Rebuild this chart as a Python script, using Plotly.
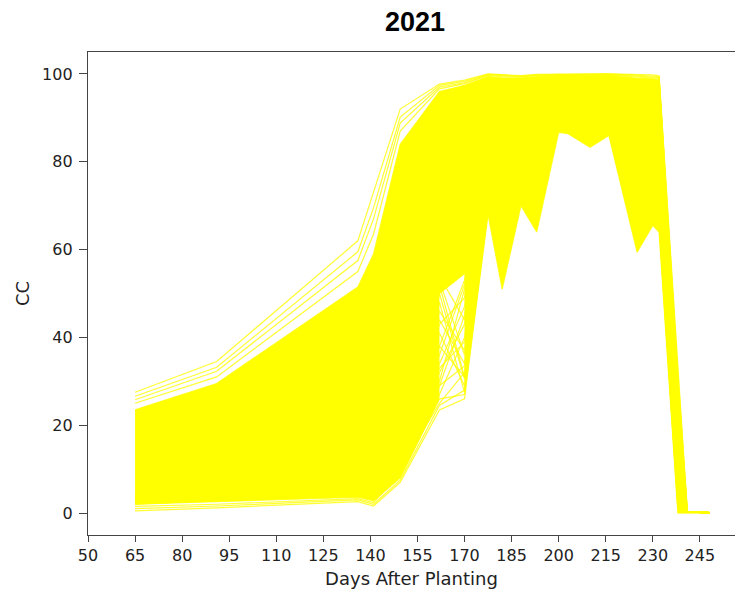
import numpy as np
import plotly.graph_objects as go

# Observation days (days after planting) shared by every plot's record
DAP = [65, 91, 136, 141, 149.5, 162, 170, 177.5, 182, 188, 193, 200, 203,
       210, 216, 225, 230, 232, 238, 241, 248]

# Canopy cover (%) per plot, grouped by early-season vigour
cc_edge_high = [
    [27.5, 34.5, 62.0, 73.0, 92.0, 97.7, 98.6, 100.0, 99.9, 99.6, 99.9, 100.0, 100.0, 100.0, 100.0, 99.9, 99.8, 99.6, 33.0, 0.4, 0.2],
    [26.6, 33.2, 59.5, 69.5, 90.2, 97.4, 98.3, 99.9, 99.8, 99.5, 99.8, 99.9, 99.9, 99.9, 100.0, 99.7, 99.6, 99.4, 32.0, 0.4, 0.2],
    [25.8, 32.3, 57.5, 67.0, 88.8, 97.0, 98.0, 99.8, 99.6, 99.4, 99.7, 99.9, 99.8, 99.8, 99.9, 99.5, 99.4, 99.2, 31.0, 0.3, 0.2],
    [25.0, 31.0, 55.0, 63.5, 87.0, 96.6, 97.8, 99.6, 99.4, 99.3, 99.6, 99.8, 99.8, 99.7, 99.8, 99.3, 99.2, 99.0, 30.0, 0.3, 0.1],
]

cc_vigorous = [
    [23.5, 29.5, 51.5, 59.0, 84.0, 96.0, 97.4, 99.4, 99.1, 99.1, 99.4, 99.7, 99.7, 99.6, 99.7, 99.0, 98.9, 98.6, 28.5, 0.3, 0.1],
    [22.0, 27.5, 47.5, 54.5, 80.5, 95.2, 96.9, 99.1, 98.7, 98.8, 99.1, 99.5, 99.5, 99.4, 99.5, 98.4, 98.6, 98.2, 27.0, 0.3, 0.1],
    [20.0, 25.0, 43.0, 49.0, 76.0, 94.0, 96.2, 98.7, 98.1, 98.4, 98.8, 99.3, 99.3, 99.1, 99.2, 97.5, 98.1, 97.6, 25.0, 0.2, 0.1],
    [18.0, 22.5, 38.5, 43.5, 71.0, 92.5, 95.3, 98.2, 97.3, 97.9, 98.4, 99.1, 99.0, 98.7, 98.9, 96.2, 97.4, 96.9, 23.0, 0.2, 0.1],
]

cc_average = [
    [16.0, 20.0, 34.0, 38.5, 65.0, 90.5, 94.0, 97.5, 96.2, 97.2, 97.8, 98.8, 98.7, 98.2, 98.5, 94.5, 96.4, 95.9, 21.0, 0.2, 0.1],
    [14.0, 17.5, 29.5, 33.5, 59.0, 88.0, 92.5, 96.5, 94.8, 96.3, 97.0, 98.4, 98.3, 97.6, 97.9, 92.5, 95.0, 94.5, 19.0, 0.2, 0.1],
    [12.0, 15.0, 25.5, 29.0, 53.0, 85.0, 90.5, 95.2, 93.0, 95.2, 96.0, 97.9, 97.8, 96.9, 97.3, 90.0, 93.3, 92.8, 17.0, 0.2, 0.1],
    [10.5, 13.0, 22.0, 25.0, 47.0, 81.5, 88.0, 93.8, 91.0, 94.0, 94.8, 97.3, 97.1, 96.0, 96.5, 87.0, 91.2, 90.8, 15.0, 0.2, 0.1],
    [9.0, 11.0, 18.5, 21.0, 41.0, 77.5, 85.0, 92.2, 88.5, 92.5, 93.3, 96.6, 96.4, 95.0, 95.6, 83.5, 88.8, 88.5, 13.0, 0.2, 0.1],
    [7.5, 9.5, 15.5, 17.5, 35.5, 73.0, 81.5, 90.5, 85.5, 90.8, 91.5, 95.8, 95.5, 93.8, 94.6, 79.5, 86.0, 86.0, 11.5, 0.2, 0.1],
]

cc_weak = [
    [6.0, 8.0, 12.5, 14.0, 30.0, 68.0, 77.0, 88.5, 82.0, 88.5, 89.2, 94.8, 94.5, 92.5, 93.5, 75.5, 82.5, 83.0, 10.0, 0.2, 0.1],
    [5.0, 6.5, 10.0, 11.0, 25.0, 63.0, 72.0, 86.0, 78.0, 86.0, 86.5, 93.6, 93.3, 91.0, 92.2, 71.5, 79.0, 79.5, 8.5, 0.2, 0.1],
    [4.0, 5.2, 8.0, 8.5, 20.0, 58.0, 66.0, 83.0, 73.5, 83.0, 83.0, 92.3, 92.0, 89.5, 90.8, 68.0, 75.5, 76.0, 7.0, 0.2, 0.1],
    [3.2, 4.3, 6.5, 6.5, 16.0, 53.0, 60.0, 79.5, 68.0, 79.5, 78.5, 90.8, 90.5, 87.8, 89.3, 64.5, 72.0, 72.5, 5.5, 0.2, 0.1],
    [2.6, 3.5, 5.2, 4.8, 12.5, 50.0, 54.5, 75.5, 62.0, 76.0, 73.0, 89.3, 89.0, 86.2, 88.0, 62.0, 69.0, 69.5, 4.0, 0.2, 0.1],
    [2.3, 3.0, 4.3, 3.6, 10.0, 38.0, 31.0, 71.5, 56.0, 72.5, 68.0, 87.8, 87.6, 84.6, 86.8, 60.5, 66.8, 66.5, 2.0, 0.2, 0.1],
    [2.0, 2.6, 3.6, 2.8, 8.0, 26.0, 27.0, 68.0, 51.0, 70.0, 64.0, 86.7, 86.4, 83.3, 86.0, 59.4, 65.5, 64.0, 0.0, 0.0, 0.0],
]

cc_edge_low = [
    [0.5, 1.2, 2.6, 1.6, 7.0, 23.5, 26.0, 69.0, 63.0, 74.0, 70.0, 88.0, 87.8, 85.0, 87.0, 62.5, 67.0, 66.0, 1.0, 0.2, 0.1],
    [1.0, 1.6, 3.0, 2.0, 7.5, 24.5, 28.0, 71.0, 66.0, 75.5, 72.0, 89.0, 88.5, 86.0, 87.5, 64.0, 68.0, 67.0, 1.5, 0.2, 0.1],
    [1.5, 2.0, 3.3, 2.4, 9.0, 29.0, 33.5, 73.0, 58.0, 73.0, 66.0, 88.2, 87.9, 84.2, 86.6, 61.0, 66.2, 65.3, 0.8, 0.2, 0.1],
]

cc_patchy = [
    [3.0, 4.0, 6.0, 5.5, 14.0, 52.0, 31.0, 74.0, 66.0, 78.0, 76.0, 90.0, 89.5, 87.0, 88.5, 66.0, 71.0, 71.0, 3.0, 0.2, 0.1],
    [2.8, 3.8, 5.5, 4.5, 12.0, 30.0, 51.0, 82.0, 75.0, 84.0, 82.0, 92.0, 91.5, 89.0, 90.5, 70.0, 76.0, 76.5, 6.0, 0.2, 0.1],
    [3.5, 4.5, 7.0, 6.0, 15.0, 46.0, 37.0, 77.0, 70.0, 80.5, 79.0, 91.0, 90.5, 88.0, 89.5, 67.5, 73.5, 73.5, 4.5, 0.2, 0.1],
    [2.5, 3.3, 5.0, 4.0, 11.5, 34.0, 47.0, 79.0, 72.0, 82.0, 80.5, 91.5, 91.0, 88.5, 90.0, 69.0, 74.5, 75.0, 5.0, 0.2, 0.1],
    [4.5, 5.5, 8.5, 7.5, 18.0, 54.0, 44.0, 80.0, 73.0, 83.0, 81.5, 92.2, 91.8, 89.3, 90.8, 70.5, 77.0, 77.0, 6.5, 0.2, 0.1],
    [2.2, 3.0, 4.6, 3.8, 10.5, 27.0, 40.0, 75.0, 67.5, 79.0, 77.5, 90.5, 90.0, 87.5, 89.0, 66.5, 72.0, 72.0, 3.5, 0.2, 0.1],
    [3.8, 4.8, 7.5, 6.8, 16.0, 41.0, 29.0, 72.0, 64.0, 76.5, 74.0, 89.5, 89.0, 86.5, 88.0, 65.0, 70.0, 70.0, 2.5, 0.2, 0.1],
    [2.0, 2.8, 4.0, 3.2, 9.5, 36.0, 52.0, 83.0, 76.5, 85.0, 84.0, 92.8, 92.4, 90.0, 91.5, 72.0, 78.0, 78.5, 7.5, 0.2, 0.1],
    [4.0, 5.0, 8.0, 7.0, 17.0, 44.0, 34.0, 76.0, 69.0, 80.0, 78.5, 90.8, 90.3, 87.8, 89.3, 67.0, 73.0, 73.0, 4.0, 0.2, 0.1],
    [3.3, 4.2, 6.2, 5.0, 13.0, 32.0, 43.0, 78.0, 71.0, 81.0, 79.5, 91.2, 90.8, 88.2, 89.8, 68.5, 74.0, 74.5, 5.0, 0.2, 0.1],
    [3.6, 4.6, 7.2, 6.4, 15.5, 48.0, 27.5, 73.0, 65.0, 77.0, 75.0, 89.8, 89.3, 86.8, 88.3, 65.5, 70.5, 70.5, 2.8, 0.2, 0.1],
    [2.4, 3.2, 4.8, 3.9, 11.0, 29.0, 45.0, 80.5, 73.5, 83.5, 81.0, 91.8, 91.3, 88.8, 90.3, 69.5, 75.0, 75.5, 5.5, 0.2, 0.1],
    [3.1, 4.1, 6.1, 5.2, 13.5, 38.0, 53.0, 84.0, 77.5, 86.0, 85.0, 93.0, 92.6, 90.2, 91.6, 72.5, 78.5, 79.0, 8.0, 0.2, 0.1],
    [4.2, 5.2, 8.2, 7.2, 17.5, 53.0, 36.0, 76.5, 69.5, 80.2, 78.8, 91.0, 90.6, 88.0, 89.6, 67.2, 73.2, 73.2, 4.2, 0.2, 0.1],
    [2.1, 2.9, 4.2, 3.4, 10.0, 25.0, 32.0, 74.5, 67.0, 78.5, 77.0, 90.2, 89.8, 87.2, 88.8, 66.2, 71.5, 71.5, 3.2, 0.2, 0.1],
    [3.4, 4.4, 6.6, 5.7, 14.5, 43.0, 49.0, 81.0, 74.0, 84.5, 83.0, 92.5, 92.1, 89.6, 91.0, 71.0, 77.0, 77.5, 6.8, 0.2, 0.1],
    [3.9, 4.9, 7.8, 6.9, 16.5, 50.0, 30.5, 73.5, 65.5, 77.5, 75.5, 89.9, 89.4, 86.9, 88.4, 65.8, 70.8, 70.8, 2.9, 0.2, 0.1],
    [2.7, 3.6, 5.3, 4.3, 12.0, 33.0, 39.0, 76.8, 69.8, 80.8, 79.2, 91.0, 90.5, 88.0, 89.5, 67.8, 73.8, 74.0, 4.6, 0.2, 0.1],
]

x_ticks = [50, 65, 80, 95, 110, 125, 140, 155, 170, 185, 200, 215, 230, 245]
y_ticks = [0, 20, 40, 60, 80, 100]

YELLOW = "#ffff00"
LINE = "rgba(255,255,0,0.8)"

fig = go.Figure()

# Dense core of the plot records, shaded between its daily max and min.
# Between the 162 and 170 DAP surveys only the plots that stay above 50 %
# are shaded, so the crossing records there remain visible as lines.
core = np.array(cc_vigorous + cc_average + cc_weak)
upper = core.max(axis=0)
lower = core.min(axis=0)
i162, i170 = DAP.index(162), DAP.index(170)
dense = core[(core[:, i162] >= 50) & (core[:, i170] >= 50)]
gap_lo = dense.min(axis=0)

bx, by = [], []
for i in range(len(DAP) - 1, -1, -1):
    if i == i170:
        bx += [DAP[i], DAP[i]]
        by += [lower[i], gap_lo[i]]
    elif i == i162:
        bx += [DAP[i], DAP[i]]
        by += [gap_lo[i], lower[i]]
    else:
        bx.append(DAP[i])
        by.append(lower[i])

fig.add_trace(go.Scatter(
    x=DAP + bx, y=list(upper) + by,
    fill="toself", fillcolor=YELLOW, mode="lines",
    line=dict(width=0, color=YELLOW), hoverinfo="skip", showlegend=False,
))

# Every plot record as a thin line
for row in cc_edge_high + cc_vigorous + cc_average + cc_weak + cc_edge_low + cc_patchy:
    fig.add_trace(go.Scatter(
        x=DAP, y=row, mode="lines",
        line=dict(color=LINE, width=1.2), showlegend=False,
    ))

tick_font = dict(family="DejaVu Sans", size=16, color="#222222")
label_font = dict(family="DejaVu Sans", size=18, color="#222222")
fig.update_layout(
    width=735, height=593,
    margin=dict(l=88, r=0, t=52, b=58),
    paper_bgcolor="white", plot_bgcolor="white",
    title=dict(text="<b>2021</b>", x=415 / 735, xref="container", xanchor="center",
               y=1 - 22 / 593, yanchor="middle",
               font=dict(family="Liberation Sans", size=27, color="black")),
    font=tick_font,
    xaxis=dict(
        range=[50, 256.2], tickvals=x_ticks, ticks="outside", ticklen=6,
        tickcolor="#444", tickwidth=1.3, showline=True, linecolor="#444",
        linewidth=1.3, mirror=True, showgrid=False, zeroline=False,
        tickfont=tick_font,
        title=dict(text="Days After Planting", font=label_font, standoff=8),
    ),
    yaxis=dict(
        range=[-5, 105], tickvals=y_ticks, ticks="outside", ticklen=8,
        ticklabelstandoff=3,
        tickcolor="#444", tickwidth=1.3, showline=True, linecolor="#444",
        linewidth=1.3, mirror=False, showgrid=False, zeroline=False,
        tickfont=tick_font,
        title=dict(text="CC", font=label_font, standoff=7),
    ),
)

fig.write_html("out.html")
